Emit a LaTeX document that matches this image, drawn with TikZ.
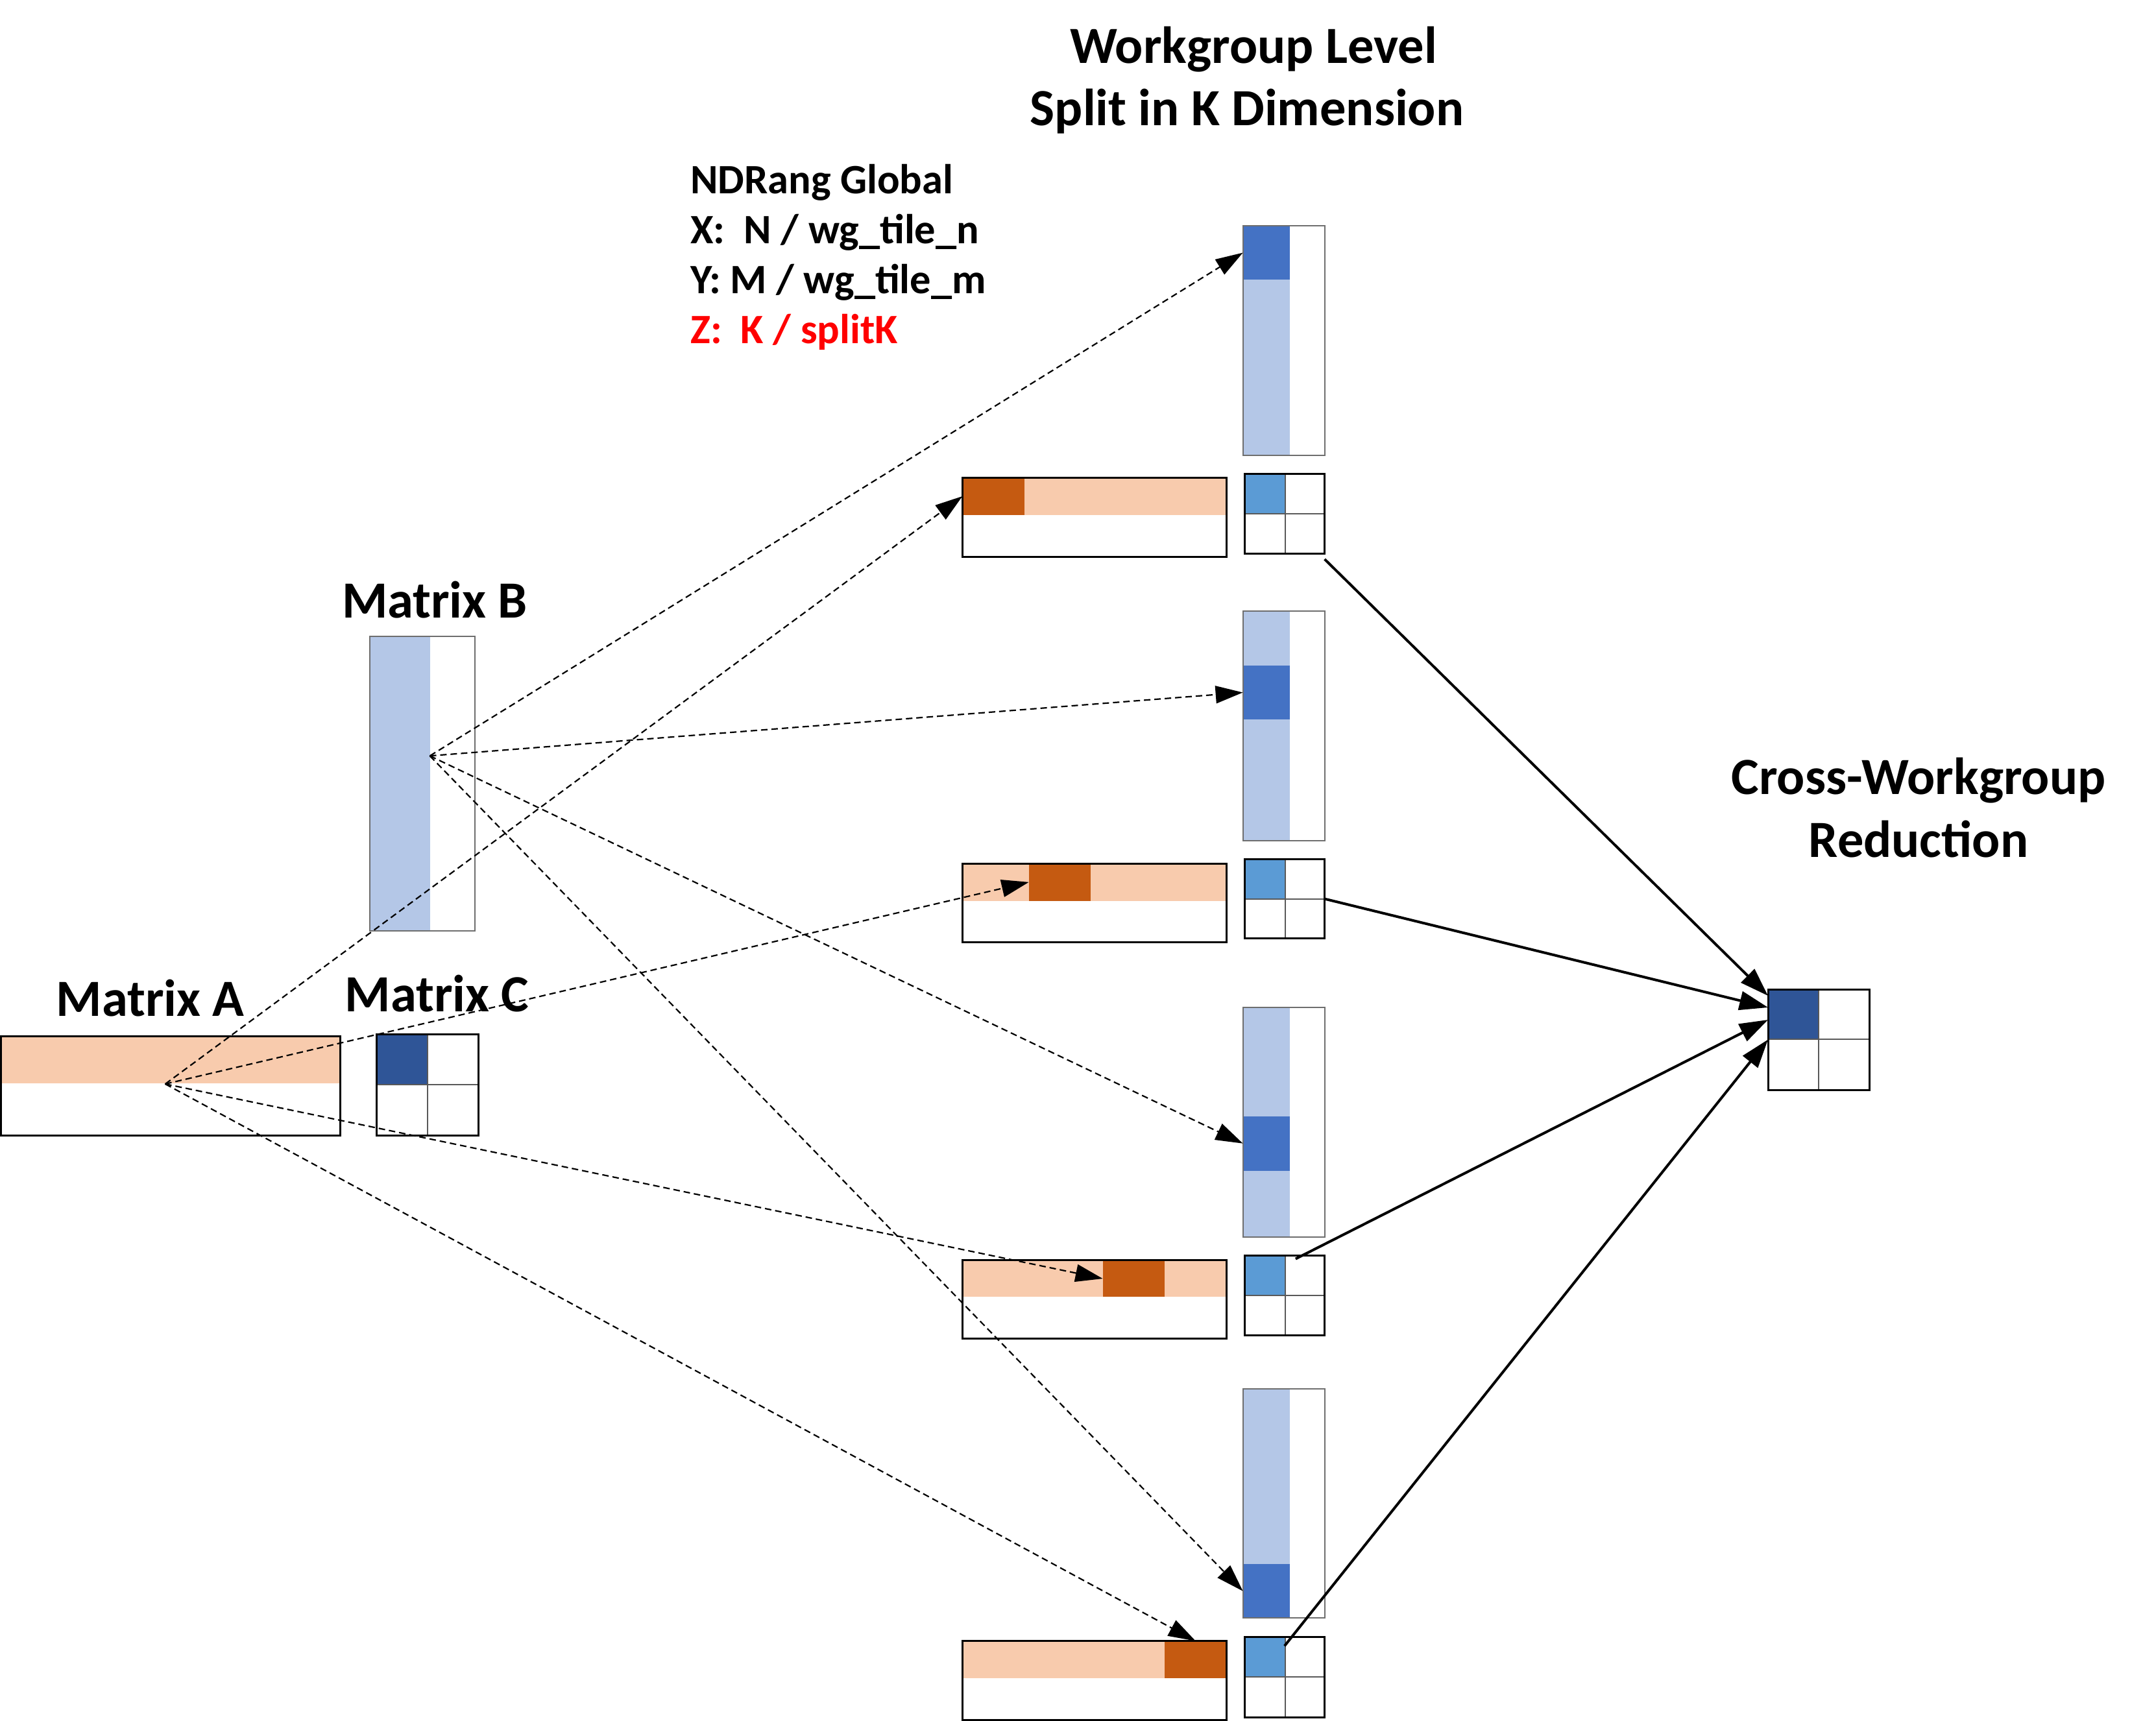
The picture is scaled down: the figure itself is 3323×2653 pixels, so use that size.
\documentclass[tikz,border=0pt]{standalone}
\usepackage{fontspec}
\setmainfont{Carlito}
\usetikzlibrary{arrows.meta}
\definecolor{peach}{HTML}{F8CBAD}
\definecolor{burnt}{HTML}{C55A11}
\definecolor{lightblue}{HTML}{B4C7E7}
\definecolor{midblue}{HTML}{4472C4}
\definecolor{darkblue}{HTML}{2F5597}
\definecolor{cellblue}{HTML}{5B9BD5}
\definecolor{framegray}{HTML}{6E6E6E}
\definecolor{zred}{HTML}{FF0000}
\tikzset{
  rbox/.style={rectangle, inner sep=0pt, outer sep=0pt, anchor=north west},
  blackframe/.style={draw=black, line width=3pt},
  grayframe/.style={draw=framegray, line width=2pt},
  divider/.style={draw=black!65, line width=2pt},
  fanarrow/.style={draw, line width=2.2pt, dash pattern=on 10pt off 6pt, -{Triangle[length=42pt,width=27pt]}},
  sumarrow/.style={draw, line width=4pt, -{Triangle[length=44pt,width=29pt]}},
  title/.style={font=\bfseries\fontsize{80.5}{97}\selectfont, inner sep=0pt, anchor=base},
  info/.style={font=\bfseries\fontsize{64.5}{77}\selectfont, inner sep=0pt, anchor=base west},
}
\newcommand{\rectnode}[6]{%
  \pgfmathsetmacro\rnw{#5-#3}\pgfmathsetmacro\rnh{#6-#4}%
  \node[rbox,#2,minimum width=\rnw pt,minimum height=\rnh pt] (#1) at (#3,#4) {};}
\newcommand{\ctile}[8]{%
  \rectnode{#1cell}{fill=#8}{#2}{#3}{#6}{#7}
  \draw[divider] (#6,#3) -- (#6,#5) (#2,#7) -- (#4,#7);
  \rectnode{#1}{blackframe}{#2}{#3}{#4}{#5}}
\newcommand{\btile}[5]{%
  \rectnode{#1band}{fill=lightblue}{1915.6}{#2}{1987.5}{#3}
  \rectnode{#1dark}{fill=midblue}{1915.6}{#4}{1987.5}{#5}
  \rectnode{#1}{grayframe}{1915.6}{#2}{2041.6}{#3}}
\newcommand{\atile}[6]{%
  \rectnode{#1band}{fill=peach}{1485}{#2}{1889}{#4}
  \rectnode{#1dark}{fill=burnt}{#5}{#2}{#6}{#4}
  \rectnode{#1}{blackframe}{1483.3}{#2}{1890.5}{#3}}
\begin{document}
\begin{tikzpicture}[x=1pt,y=-1pt]
\useasboundingbox (0,0) rectangle (3323,2653);
% titles and text
\node[title] (t1) at (1932,97) {Workgroup Level};
\node[title] (t2) at (1922,193.8) {Split in K Dimension};
\node[info] (n1) at (1064,298) {NDRang Global};
\node[info] (n2) at (1064,375) {X:\ \ N / wg\_tile\_n};
\node[info] (n3) at (1064,452) {Y: M / wg\_tile\_m};
\node[info,text=zred] (n4) at (1064,529.5) {Z:\ \ K / splitK};
\node[title] (tB) at (670,952.7) {Matrix B};
\node[title] (tA) at (231.7,1566) {Matrix A};
\node[title] (tC) at (673.5,1559) {Matrix C};
\node[title] (tX1) at (2957,1224.6) {Cross-Workgroup};
\node[title] (tX2) at (2957,1321) {Reduction};
% matrix A
\rectnode{Aband}{fill=peach}{3}{1599}{523}{1670.4}
\rectnode{A}{blackframe}{1.6}{1597.5}{524.7}{1750.7}
% matrix B
\rectnode{Bband}{fill=lightblue}{570.2}{981}{662.5}{1435}
\rectnode{B}{grayframe}{570.2}{981}{731.7}{1435}
% matrix C
\ctile{C}{580}{1594.6}{737}{1750.7}{658.5}{1672}{darkblue}
% fan origins
\coordinate (oB) at (662.5,1165.2);
\coordinate (oA) at (254.7,1671);
% workgroup tiles
\btile{GB1}{347.8}{701.8}{347.8}{431.3}
\btile{GB2}{941.7}{1295.7}{1025.7}{1109.3}
\btile{GB3}{1553}{1906.5}{1720.8}{1804.5}
\btile{GB4}{2140.6}{2494.4}{2411}{2494.4}
\atile{GA1}{736.3}{858}{793.7}{1483.3}{1579.4}
\atile{GA2}{1331}{1452}{1388.7}{1585.7}{1680.8}
\atile{GA3}{1942.7}{2063}{1999.4}{1699.6}{1795}
\atile{GA4}{2529.6}{2651}{2586.8}{1795}{1890.5}
\ctile{GC1}{1918}{730.5}{2041.6}{853}{1980.5}{791.8}{cellblue}
\ctile{GC2}{1918}{1324.4}{2041.6}{1446.8}{1980.5}{1385.6}{cellblue}
\ctile{GC3}{1918}{1935.6}{2041.6}{2058}{1980.5}{1996.8}{cellblue}
\ctile{GC4}{1918}{2523.3}{2041.6}{2647.4}{1980.5}{2585}{cellblue}
% result
\ctile{R}{2725}{1525}{2881.7}{1680}{2803.3}{1602.3}{darkblue}
% dashed fan arrows
\draw[fanarrow] (oB) -- (GB1dark.west);
\draw[fanarrow] (oB) -- (GB2dark.west);
\draw[fanarrow] (oB) -- (GB3dark.west);
\draw[fanarrow] (oB) -- (GB4dark.west);
\draw[fanarrow] (oA) -- (GA1dark.west);
\draw[fanarrow] (oA) -- (GA2dark.west);
\draw[fanarrow] (oA) -- (GA3dark.west);
\draw[fanarrow] (oA) -- (GA4dark.north);
% reduction arrows
\draw[sumarrow] ([yshift=-9pt]GC1.south east) -- ([yshift=-10pt]R.north west);
\draw[sumarrow] (GC2.east) -- ([yshift=-28pt]R.north west);
\draw[sumarrow] ([xshift=17pt,yshift=-5pt]GC3.north) -- ([yshift=-47pt]R.north west);
\draw[sumarrow] ([yshift=-14pt]GC4.north) -- (R.west);
\end{tikzpicture}
\end{document}
